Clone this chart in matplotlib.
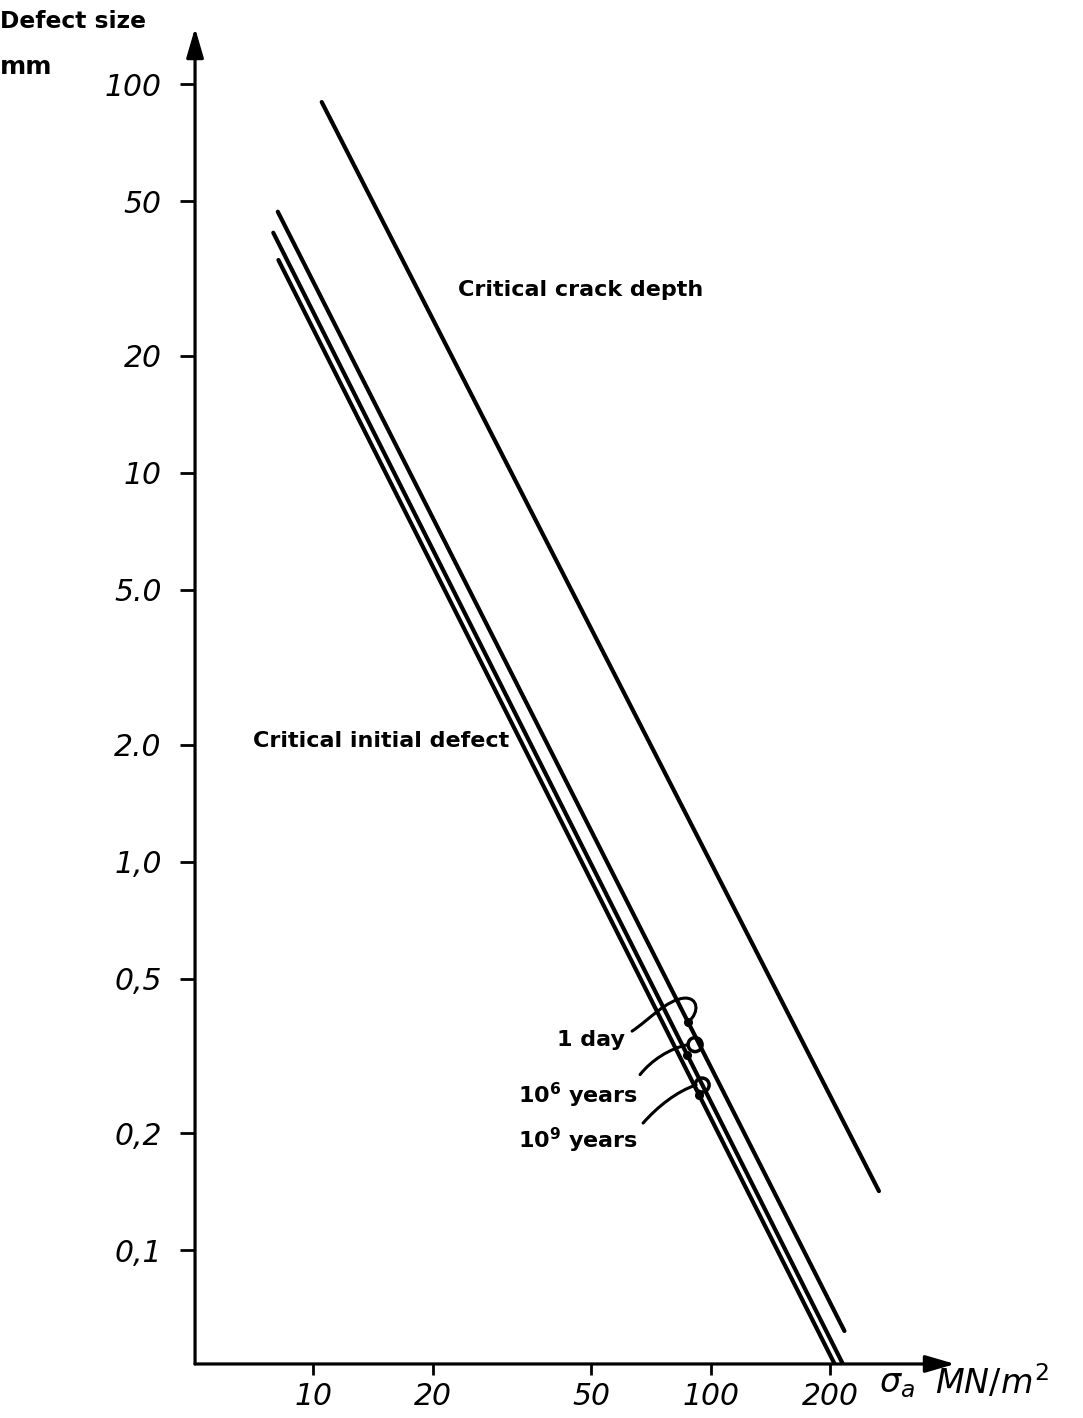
import numpy as np
import matplotlib
matplotlib.use("Agg")
import matplotlib.pyplot as plt
from matplotlib.path import Path
from matplotlib.patches import PathPatch, Circle
import matplotlib.transforms as mtransforms
from matplotlib.ticker import FixedLocator, FixedFormatter, NullLocator

# Stress axis (MN/m^2) and defect-size axis (mm)
x_ticks = [10, 20, 50, 100, 200]
x_tick_labels = ["10", "20", "50", "100", "200"]
y_ticks = [100, 50, 20, 10, 5, 2, 1, 0.5, 0.2, 0.1]
y_tick_labels = ["100", "50", "20", "10", "5.0", "2.0", "1,0", "0,5", "0,2", "0,1"]

# Critical crack depth
crack_stress = [10.5, 265.0]
crack_depth = [90.0, 0.142]

# Critical initial defect for three lifetimes
day_stress = [8.14, 217.0]
day_depth = [47.0, 0.062]
myr_stress = [7.93, 215.0]
myr_depth = [41.5, 0.051]
gyr_stress = [8.17, 205.0]
gyr_depth = [35.3, 0.051]

fig = plt.figure(figsize=(10.83, 14.18), dpi=100)
ax = fig.add_axes([0.1801, 0.0381, 0.7018, 0.9422])
ax.set_xscale("log")
ax.set_yscale("log")
ax.set_xlim(5.04, 412)
ax.set_ylim(0.051, 139.6)

for s in ax.spines.values():
    s.set_visible(False)

line_kw = dict(color="black", lw=3.0, solid_capstyle="round")
ax.plot(crack_stress, crack_depth, **line_kw)
ax.plot(day_stress, day_depth, **line_kw)
ax.plot(myr_stress, myr_depth, **line_kw)
ax.plot(gyr_stress, gyr_depth, **line_kw)

# Axis lines with arrow heads
arrow_kw = dict(arrowstyle="-|>,head_length=1.2,head_width=0.35", lw=2.3,
                color="black", shrinkA=0, shrinkB=0, mutation_scale=15)
ax.annotate("", xy=(0, 1), xytext=(0, 0), xycoords="axes fraction",
            arrowprops=arrow_kw, annotation_clip=False)
ax.annotate("", xy=(1, 0), xytext=(0, 0), xycoords="axes fraction",
            arrowprops=arrow_kw, annotation_clip=False)

ax.xaxis.set_major_locator(FixedLocator(x_ticks))
ax.xaxis.set_major_formatter(FixedFormatter(x_tick_labels))
ax.yaxis.set_major_locator(FixedLocator(y_ticks))
ax.yaxis.set_major_formatter(FixedFormatter(y_tick_labels))
ax.xaxis.set_minor_locator(NullLocator())
ax.yaxis.set_minor_locator(NullLocator())
ax.tick_params(axis="x", direction="out", length=8, width=2, pad=5)
ax.tick_params(axis="y", direction="out", length=11, width=2, pad=13)
for lab in ax.get_xticklabels() + ax.get_yticklabels():
    lab.set_fontstyle("italic")
    lab.set_fontsize(21.5)

bold = dict(family="DejaVu Sans", weight="bold", size=16)
ax.text(23.1, 29.6, "Critical crack depth", ha="left", va="center", **bold)
ax.text(7.05, 2.04, "Critical initial defect", ha="left", va="center", **bold)
ax.text(41.0, 0.348, "1 day", ha="left", va="center", **bold)
ax.text(32.7, 0.251, r"$\mathbf{10^6}$ years", ha="left", va="center", **bold)
ax.text(32.7, 0.192, r"$\mathbf{10^9}$ years", ha="left", va="center", **bold)

fig.text(0.0, 0.9845, "Defect size", ha="left", va="center",
         family="DejaVu Sans", weight="bold", size=16.8)
fig.text(0.0, 0.9527, "mm", ha="left", va="center",
         family="DejaVu Sans", weight="bold", size=18)
# Stress-axis title: symbol and unit
fig.text(0.812, 0.0240, r"$\sigma_a$", ha="left", va="center",
         size=24, family="DejaVu Sans")
fig.text(0.863, 0.0250, r"$\mathit{MN/m^2}$", ha="left", va="center",
         size=24, family="DejaVu Sans")


def on_line(stress, xs, ys):
    """Point on a straight log-log line at the given stress."""
    ly = np.interp(np.log10(stress), np.log10(xs), np.log10(ys))
    return stress, 10 ** ly


def pixel_frame(target):
    """Transform for pixel offsets measured from a data point."""
    return (mtransforms.Affine2D()
            + mtransforms.ScaledTranslation(target[0], target[1], ax.transData))


def leader(target, verts_px, codes, ring=None):
    trans = pixel_frame(target)
    ax.add_patch(PathPatch(Path(verts_px, codes), transform=trans, fill=False,
                           lw=2.2, color="black", clip_on=False,
                           capstyle="round"))
    if ring is not None:
        ax.add_patch(Circle(ring, 7, transform=trans, fill=False, lw=2.5,
                            color="black", clip_on=False))
    ax.plot(*target, "o", ms=5.5, color="black")


C4 = Path.CURVE4
day_target = on_line(87.7, day_stress, day_depth)
leader(day_target,
       [(-56, -9), (-38, 3), (-22, 22), (-4, 24), (10, 25), (12, 10), (0, 0)],
       [Path.MOVETO, C4, C4, C4, C4, C4, C4])

myr_target = on_line(87.2, myr_stress, myr_depth)
leader(myr_target,
       [(-47, -20), (-36, -6), (-18, 6), (1, 10)],
       [Path.MOVETO, C4, C4, C4], ring=(8, 10))

gyr_target = on_line(93.5, gyr_stress, gyr_depth)
leader(gyr_target,
       [(-56, -28), (-42, -12), (-22, 4), (-3, 10)],
       [Path.MOVETO, C4, C4, C4], ring=(3, 10))

fig.savefig("out.png", dpi=100)
